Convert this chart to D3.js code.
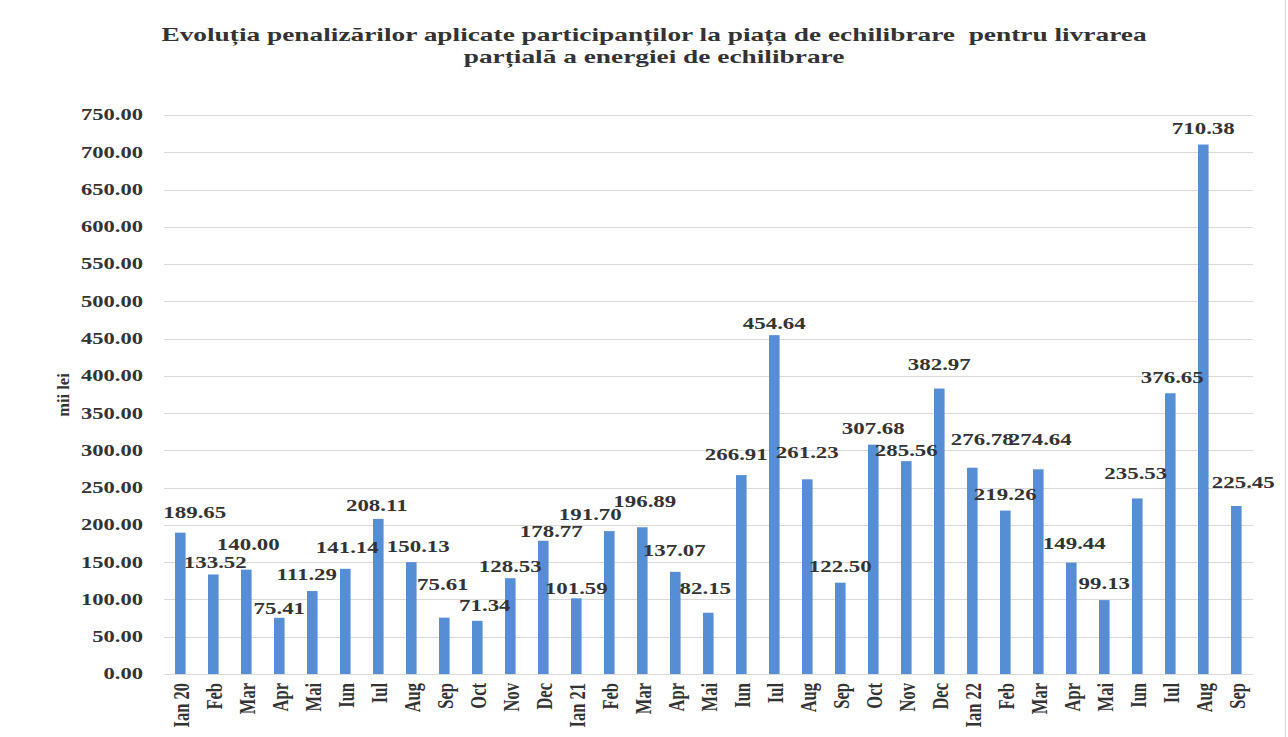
<!DOCTYPE html>
<html>
<head>
<meta charset="utf-8">
<script src="https://cdn.jsdelivr.net/npm/d3@7"></script>
<style>
  html, body { margin: 0; padding: 0; background: #ffffff; }
  svg { display: block; }
  text { font-family: "Liberation Serif", "Times New Roman", serif; font-weight: bold; white-space: pre; }
</style>
</head>
<body>
<svg id="chart" width="1288" height="737"></svg>
<script>
// ---------- data ----------
const titleLines = [
  "Evoluția penalizărilor aplicate participanților la piața de echilibrare  pentru livrarea",
  "parțială a energiei de echilibrare"
];
const yAxisTitle = "mii lei";
const categories = ["Ian 20","Feb","Mar","Apr","Mai","Iun","Iul","Aug","Sep","Oct","Nov","Dec",
  "Ian 21","Feb","Mar","Apr","Mai","Iun","Iul","Aug","Sep","Oct","Nov","Dec",
  "Ian 22","Feb","Mar","Apr","Mai","Iun","Iul","Aug","Sep"];
const values = [189.65,133.52,140.00,75.41,111.29,141.14,208.11,150.13,75.61,71.34,128.53,178.77,
  101.59,191.70,196.89,137.07,82.15,266.91,454.64,261.23,122.50,307.68,285.56,382.97,
  276.78,219.26,274.64,149.44,99.13,235.53,376.65,710.38,225.45];
const yTicks = [0,50,100,150,200,250,300,350,400,450,500,550,600,650,700,750];

// label placement nudges (layout only, px relative to bar top centre)
const labelDx = [14.5,2,2,0,-5.5,2,-1.5,7,-1.5,7.5,0,8,0,-19,2.5,-1,-3,-5,0,0,0,0,0,0,10,0,2,3,0,-1.5,2,0,7];
const labelDy = [-20,-11.5,-24.7,-8.8,-16,-20.8,-13.2,-15.4,-32.6,-15.1,-11.2,-8.8,-9.3,-16.1,-25.6,-21.1,-23.8,
  -20.1,-11.2,-26.3,-15.7,-15.7,-10.2,-24.3,-27.7,-16.3,-29.3,-19.3,-16.1,-25.2,-15.3,-15.5,-23.3];

// ---------- layout ----------
const svg = d3.select("#chart");
const X0 = 163.8, X1 = 1252.8, Y0 = 674, Y1 = 115;
const SX = 1.43;          // horizontal glyph stretch seen in the reference
const txtColor = "#333333";
const gridColor = "#d9d9d9";
const barColor = "#558ed5";

const x = d3.scaleBand()
  .domain(d3.range(categories.length))
  .range([X0, X1])
  .paddingInner(0.68)
  .paddingOuter(0.34);
const y = d3.scaleLinear().domain([0, 750]).range([Y0, Y1]);

function stretchedText(g, tx, ty, str, size, anchor, sx, rot) {
  return g.append("text")
    .attr("transform", `translate(${tx},${ty}) scale(${sx},1)` + (rot ? ` rotate(${rot})` : ""))
    .attr("text-anchor", anchor)
    .attr("font-size", size)
    .attr("fill", txtColor)
    .text(str);
}

// frame line on the right edge
svg.append("line").attr("x1", 1285.5).attr("x2", 1285.5).attr("y1", 0).attr("y2", 737)
  .attr("stroke", gridColor).attr("stroke-width", 1);

// title
const tg = svg.append("g");
titleLines.forEach((s, i) => {
  stretchedText(tg, 654, 41 + i * 22, s, 18, "middle", 1.52);
});

// gridlines via d3 axis
const yAxis = d3.axisLeft(y)
  .tickValues(yTicks)
  .tickSize(-(X1 - X0))
  .tickPadding(0)
  .tickFormat(d3.format(".2f"));
const ag = svg.append("g").attr("transform", `translate(${X0},0)`).call(yAxis);
ag.select(".domain").remove();
ag.selectAll(".tick line").attr("stroke", gridColor).attr("stroke-width", 1)
  .attr("shape-rendering", "crispEdges");
ag.selectAll(".tick text").remove();
// y tick labels (stretched)
const ytg = svg.append("g");
yTicks.forEach(v => {
  stretchedText(ytg, 143, y(v) + 5.4, d3.format(".2f")(v), 16, "end", 1.41);
});

// y axis title
stretchedText(svg.append("g"), 69, 395, yAxisTitle, 16.5, "middle", 1.0, -90);

// bars
svg.append("g").selectAll("rect")
  .data(values)
  .join("rect")
  .attr("x", (d, i) => x(i))
  .attr("width", x.bandwidth())
  .attr("y", d => y(d))
  .attr("height", d => y(0) - y(d))
  .attr("fill", barColor);

// x axis line
svg.append("line").attr("x1", X0).attr("x2", X1).attr("y1", Y0 + 0.5).attr("y2", Y0 + 0.5)
  .attr("stroke", gridColor).attr("stroke-width", 1);

// x labels (rotated, stretched)
const xg = svg.append("g");
categories.forEach((c, i) => {
  const cx = x(i) + x.bandwidth() / 2;
  stretchedText(xg, cx + 8.6, 683, c, 16.5, "end", 1.45, -90);
});

// data labels
const lg = svg.append("g");
values.forEach((v, i) => {
  const cx = x(i) + x.bandwidth() / 2 + labelDx[i];
  const cy = y(v) + labelDy[i];
  stretchedText(lg, cx, cy + 5.4, d3.format(".2f")(v), 16, "middle", SX);
});
</script>
</body>
</html>
